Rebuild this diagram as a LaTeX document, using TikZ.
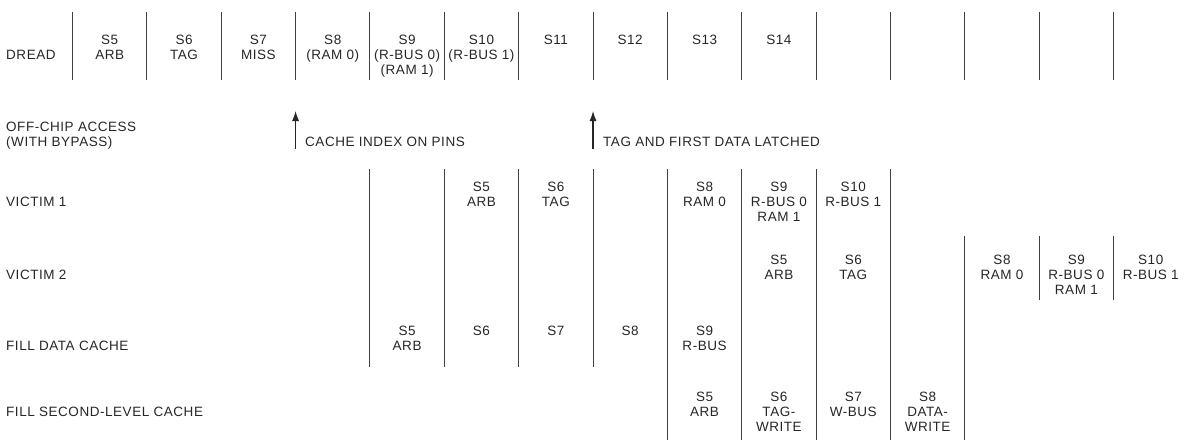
\documentclass[tikz,border=0pt]{standalone}
\usepackage{fontspec}
\setmainfont{Liberation Sans}[LetterSpace=4]
\usetikzlibrary{arrows.meta}
\begin{document}
\begin{tikzpicture}[x=1pt,y=-1pt,
  txt/.style={font=\fontsize{13.5}{15}\selectfont, text=black!85, inner sep=0pt, align=center},
  cell/.style={txt, anchor=north},
  lbl/.style={txt, anchor=west, align=left},
  bar/.style={draw=black!75, line width=1pt},
  marker/.style={draw=black!85, line width=1.1pt, -{Latex[length=10pt,width=7pt]}}]
\useasboundingbox (0,0) rectangle (1185,442);
% vertical separators
\foreach \k in {0,...,14} {\draw[bar] ({72.5+74.36*\k},12) -- ({72.5+74.36*\k},80);}
\foreach \k in {4,...,7} {\draw[bar] ({72.5+74.36*\k},169) -- ({72.5+74.36*\k},367);}
\foreach \k in {8,...,11} {\draw[bar] ({72.5+74.36*\k},169) -- ({72.5+74.36*\k},440);}
\draw[bar] ({72.5+74.36*12},236) -- ({72.5+74.36*12},440);
\foreach \k in {13,14} {\draw[bar] ({72.5+74.36*\k},236) -- ({72.5+74.36*\k},300);}
% row labels
\node[lbl] (lDREAD) at (6,55) {DREAD};
\node[txt, anchor=north west, align=left] (lOFF) at (6,122) {OFF-CHIP ACCESS\\(WITH BYPASS)};
\node[lbl] (lV1) at (6,202) {VICTIM 1};
\node[lbl] (lV2) at (6,275) {VICTIM 2};
\node[lbl] (lFD) at (6,346) {FILL DATA CACHE};
\node[lbl] (lFS) at (6,412) {FILL SECOND-LEVEL CACHE};
% DREAD
\node[cell] (d5)  at ({109.68+74.36*0},35) {S5\\ARB};
\node[cell] (d6)  at ({109.68+74.36*1},35) {S6\\TAG};
\node[cell] (d7)  at ({109.68+74.36*2},35) {S7\\MISS};
\node[cell] (d8)  at ({109.68+74.36*3},35) {S8\\(RAM 0)};
\node[cell] (d9)  at ({109.68+74.36*4},35) {S9\\(R-BUS 0)\\(RAM 1)};
\node[cell] (d10) at ({109.68+74.36*5},35) {S10\\(R-BUS 1)};
\node[cell] (d11) at ({109.68+74.36*6},35) {S11};
\node[cell] (d12) at ({109.68+74.36*7},35) {S12};
\node[cell] (d13) at ({109.68+74.36*8},35) {S13};
\node[cell] (d14) at ({109.68+74.36*9},35) {S14};
% off-chip markers
\coordinate (a1s) at ({72.5+74.36*3},149);
\coordinate (a1e) at ({72.5+74.36*3},111);
\coordinate (a2s) at ({72.5+74.36*7},149);
\coordinate (a2e) at ({72.5+74.36*7},111);
\draw[marker] (a1s) -- (a1e);
\draw[marker] (a2s) -- (a2e);
\node[lbl] (t1) at (305,142) {CACHE INDEX ON PINS};
\node[lbl] (t2) at (603,142) {TAG AND FIRST DATA LATCHED};
% VICTIM 1
\node[cell] (v1s5)  at ({109.68+74.36*5},182) {S5\\ARB};
\node[cell] (v1s6)  at ({109.68+74.36*6},182) {S6\\TAG};
\node[cell] (v1s8)  at ({109.68+74.36*8},182) {S8\\RAM 0};
\node[cell] (v1s9)  at ({109.68+74.36*9},182) {S9\\R-BUS 0\\RAM 1};
\node[cell] (v1s10) at ({109.68+74.36*10},182) {S10\\R-BUS 1};
% VICTIM 2
\node[cell] (v2s5)  at ({109.68+74.36*9},255) {S5\\ARB};
\node[cell] (v2s6)  at ({109.68+74.36*10},255) {S6\\TAG};
\node[cell] (v2s8)  at ({109.68+74.36*12},255) {S8\\RAM 0};
\node[cell] (v2s9)  at ({109.68+74.36*13},255) {S9\\R-BUS 0\\RAM 1};
\node[cell] (v2s10) at ({109.68+74.36*14},255) {S10\\R-BUS 1};
% FILL DATA CACHE
\node[cell] (fd5) at ({109.68+74.36*4},325.5) {S5\\ARB};
\node[cell] (fd6) at ({109.68+74.36*5},325.5) {S6};
\node[cell] (fd7) at ({109.68+74.36*6},325.5) {S7};
\node[cell] (fd8) at ({109.68+74.36*7},325.5) {S8};
\node[cell] (fd9) at ({109.68+74.36*8},325.5) {S9\\R-BUS};
% FILL SECOND-LEVEL CACHE
\node[cell] (fs5) at ({109.68+74.36*8},392) {S5\\ARB};
\node[cell] (fs6) at ({109.68+74.36*9},392) {S6\\TAG-\\WRITE};
\node[cell] (fs7) at ({109.68+74.36*10},392) {S7\\W-BUS};
\node[cell] (fs8) at ({109.68+74.36*11},392) {S8\\DATA-\\WRITE};
\end{tikzpicture}
\end{document}
